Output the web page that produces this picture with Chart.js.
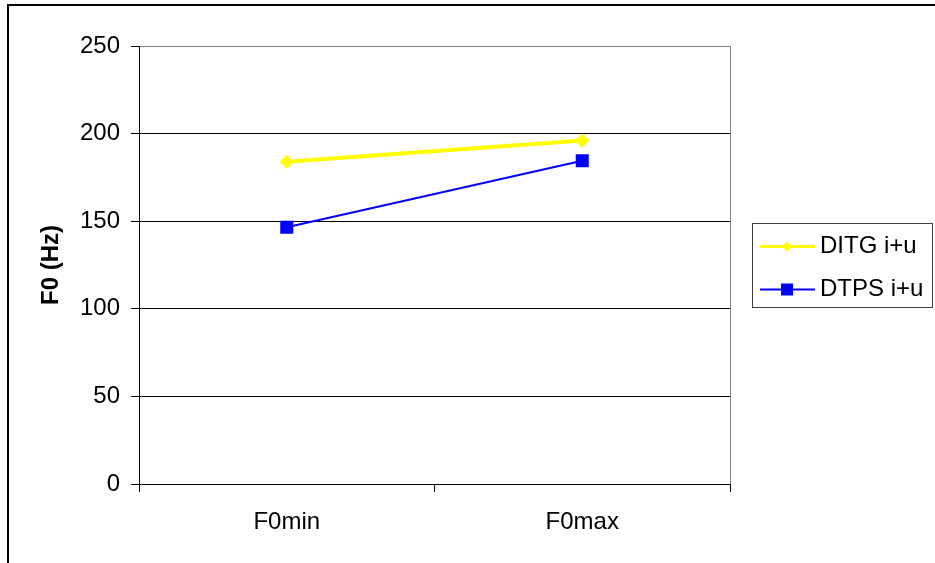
<!DOCTYPE html>
<html>
<head>
<meta charset="utf-8">
<script src="https://cdn.jsdelivr.net/npm/chart.js@4"></script>
<style>
    body { margin: 0; background: #fff; overflow: hidden; }
    #frame { position: absolute; left: 7px; top: 4px; width: 1000px; height: 1000px; border: 2px solid #000; }
    #wrap { position: absolute; left: 0; top: 0; width: 935px; height: 563px; }
</style>
</head>
<body>
<div id="frame"></div>
<div id="wrap"><canvas id="chart" width="935" height="563"></canvas></div>
<script>
// values
var categories = ['F0min', 'F0max'];
var seriesNames = ['DITG i+u', 'DTPS i+u'];
var ditgValues = [184, 196];
var dtpsValues = [146.5, 184.5];
var yMin = 0, yMax = 250, yStep = 50;

Chart.defaults.font.family = "'Liberation Sans', Arial, sans-serif";
Chart.defaults.font.size = 24;
Chart.defaults.color = '#000';

// grey right edge of the plot area
var plotEdge = {
    id: 'plotEdge',
    beforeDatasetsDraw: function(chart) {
        var a = chart.chartArea;
        var ctx = chart.ctx;
        ctx.save();
        ctx.strokeStyle = '#808080';
        ctx.lineWidth = 1;
        ctx.beginPath();
        ctx.moveTo(Math.round(a.right) + 0.5, a.top);
        ctx.lineTo(Math.round(a.right) + 0.5, a.bottom);
        ctx.stroke();
        ctx.restore();
    }
};

// legend box to the right of the plot, drawn by hand like the Excel one
var boxLegend = {
    id: 'boxLegend',
    afterDraw: function(chart) {
        var ctx = chart.ctx;
        var sets = chart.data.datasets;
        ctx.save();
        ctx.strokeStyle = '#404040';
        ctx.lineWidth = 1;
        ctx.strokeRect(752.5, 223.5, 180, 84);
        var rows = [246.5, 289.5];
        for (var i = 0; i < sets.length; i++) {
            var ds = sets[i];
            var y = rows[i];
            ctx.strokeStyle = ds.borderColor;
            ctx.lineWidth = i == 0 ? 3 : 2;
            ctx.beginPath();
            ctx.moveTo(760, y);
            ctx.lineTo(815, y);
            ctx.stroke();
            ctx.fillStyle = ds.backgroundColor;
            ctx.beginPath();
            if (i == 0) {
                ctx.moveTo(787, y - 5);
                ctx.lineTo(792, y);
                ctx.lineTo(787, y + 5);
                ctx.lineTo(782, y);
                ctx.closePath();
                ctx.fill();
            } else {
                ctx.fillRect(781, y - 6, 12, 12);
            }
            ctx.fillStyle = '#000';
            ctx.font = "24px 'Liberation Sans', Arial, sans-serif";
            ctx.textBaseline = 'middle';
            ctx.textAlign = 'left';
            ctx.fillText(ds.label, 820, y);
        }
        ctx.restore();
    }
};

var ctx = document.getElementById('chart').getContext('2d');
var chart = new Chart(ctx, {
    type: 'line',
    data: {
        labels: categories,
        datasets: [{
            label: seriesNames[0],
            data: ditgValues,
            borderColor: '#FFFF00',
            backgroundColor: '#FFFF00',
            borderWidth: 4,
            pointStyle: 'rectRot',
            pointRadius: 7,
            pointBorderWidth: 0,
            fill: false
        }, {
            label: seriesNames[1],
            data: dtpsValues,
            borderColor: '#0000FF',
            backgroundColor: '#0000FF',
            borderWidth: 2,
            pointStyle: 'rect',
            pointRadius: 9.2,
            pointBorderWidth: 0,
            fill: false
        }]
    },
    options: {
        responsive: false,
        animation: false,
        layout: { padding: { left: 0, right: 205, top: 46, bottom: 0 } },
        plugins: {
            legend: { display: false },
            tooltip: { enabled: false }
        },
        scales: {
            x: {
                offset: true,
                afterFit: function(scale) { scale.height = 79; },
                grid: {
                    offset: true,
                    drawOnChartArea: false,
                    tickLength: 8,
                    color: '#000'
                },
                border: { color: '#000', width: 1 },
                ticks: { padding: 16, maxRotation: 0 }
            },
            y: {
                min: yMin,
                max: yMax,
                afterFit: function(scale) { scale.width = 139; },
                ticks: { stepSize: yStep, padding: 11 },
                grid: {
                    tickLength: 8,
                    color: function(c) { return c.tick && c.tick.value == yMax ? '#808080' : '#000'; },
                    tickColor: '#000'
                },
                border: { color: '#000', width: 1 },
                title: {
                    display: true,
                    text: 'F0 (Hz)',
                    font: { weight: 'bold', size: 24 },
                    padding: { top: 37, bottom: 0 }
                }
            }
        }
    },
    plugins: [plotEdge, boxLegend]
});
</script>
</body>
</html>
